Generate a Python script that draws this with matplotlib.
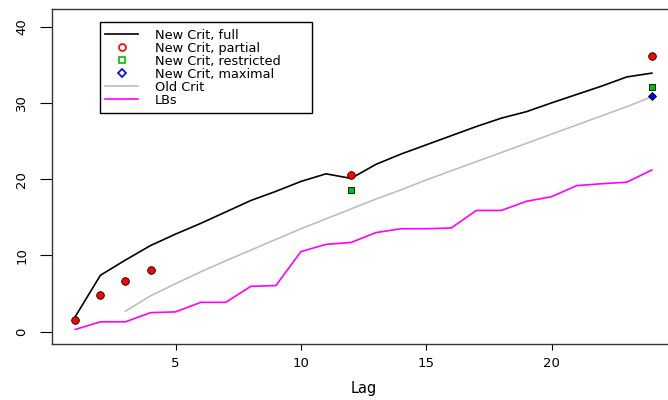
import numpy as np
import matplotlib
matplotlib.use('Agg')
import matplotlib.pyplot as plt
from matplotlib.lines import Line2D
from matplotlib.patches import Rectangle

# values
lags = list(range(1, 25))
new_full = [2.0, 7.4, 9.4, 11.3, 12.8, 14.2, 15.7, 17.2, 18.4, 19.7, 20.7, 20.1,
            21.95, 23.3, 24.5, 25.7, 26.9, 28.0, 28.85, 30.0, 31.1, 32.2, 33.4, 33.9]
old_lags = list(range(3, 25))
old_crit = [2.7, 4.7, 6.3, 7.85, 9.3, 10.7, 12.1, 13.5, 14.8, 16.1, 17.4, 18.6,
            19.9, 21.1, 22.3, 23.5, 24.7, 25.9, 27.1, 28.3, 29.5, 30.8]
lbs = [0.3, 1.3, 1.3, 2.5, 2.6, 3.85, 3.85, 5.95, 6.05, 10.5, 11.45, 11.7,
       13.0, 13.5, 13.5, 13.6, 15.9, 15.9, 17.1, 17.7, 19.15, 19.4, 19.6, 21.2]
partial_lags = [1, 2, 3, 4, 12, 24]
partial = [1.55, 4.8, 6.6, 8.1, 20.6, 36.2]
restricted_lags = [12, 24]
restricted = [18.6, 32.1]
maximal_lags = [24]
maximal = [30.85]

labels = ['New Crit, full', 'New Crit, partial', 'New Crit, restricted',
          'New Crit, maximal', 'Old Crit', 'LBs']

plt.rcParams['font.family'] = ['DejaVu Sans']
fig = plt.figure(figsize=(6.68, 4.0), dpi=100)
ax = fig.add_axes([0.0783, 0.14, 0.932, 0.837])

ax.plot(lags, new_full, color='black', lw=1.2)
ax.plot(old_lags, old_crit, color='#BEBEBE', lw=1.2)
ax.plot(lags, lbs, color='#FF00FF', lw=1.2)
ax.plot(partial_lags, partial, 'o', color='red', mec='black', mew=0.6, ms=5.5, ls='none')
ax.plot(restricted_lags, restricted, 's', color='#00C000', mec='black', mew=0.6, ms=5, ls='none')
ax.plot(maximal_lags, maximal, 'D', color='blue', mec='black', mew=0.6, ms=4.5, ls='none')

ax.set_xlim(0.08, 24.92)
ax.set_ylim(-1.61, 42.28)
ax.set_xticks([5, 10, 15, 20])
ax.set_yticks([0, 10, 20, 30, 40])
ax.tick_params(axis='x', length=4.3, width=0.8, pad=5, labelsize=9.5)
ax.tick_params(axis='y', length=8.4, width=0.8, pad=9, labelsize=9.5)
for lbl in ax.get_yticklabels():
    lbl.set_rotation(90)
    lbl.set_va('center')
for s in ax.spines.values():
    s.set_color('#333333')
    s.set_linewidth(1.0)

fig.text(0.544, 1 - 389 / 400, 'Lag', ha='center', va='center', fontsize=10.5)

handles = [Line2D([], [], color='black', lw=1.2),
           Line2D([], [], marker='o', color='red', mfc='none', ls='none', ms=5, mew=1.2),
           Line2D([], [], marker='s', color='#00C000', mfc='none', ls='none', ms=4.5, mew=1.2),
           Line2D([], [], marker='D', color='blue', mfc='none', ls='none', ms=4.5, mew=1.2),
           Line2D([], [], color='#BEBEBE', lw=1.2),
           Line2D([], [], color='#FF00FF', lw=1.2)]
leg = fig.legend(handles, labels, loc='upper left',
                 bbox_to_anchor=(100.3 / 668, 1 - 23.5 / 400),
                 fontsize=9.3, frameon=False, borderpad=0.4, labelspacing=0.0,
                 handlelength=2.5, handletextpad=1.3, borderaxespad=0)

# legend box as in the reference (wider than the text)
fig.patches.append(Rectangle((100.3 / 668, 1 - 112.7 / 400), (311.7 - 100.3) / 668,
                             (112.7 - 22.3) / 400, transform=fig.transFigure,
                             fill=False, ec='black', lw=1.0))

plt.savefig('out.png', dpi=100)
